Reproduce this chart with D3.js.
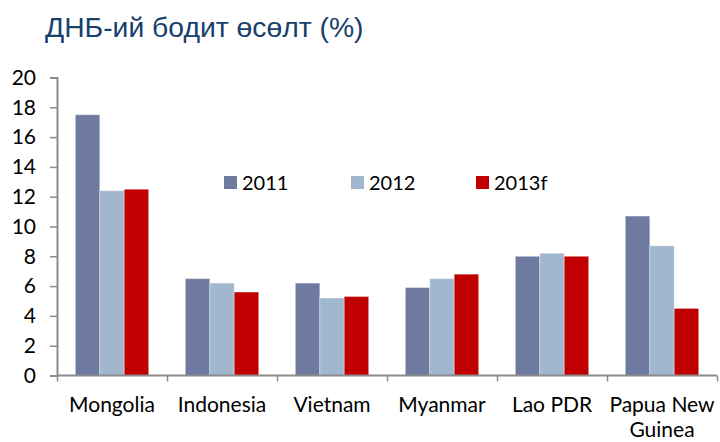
<!DOCTYPE html>
<html><head><meta charset="utf-8">
<script src="https://cdn.jsdelivr.net/npm/d3@7"></script>
<style>body{margin:0;background:#fff}</style>
</head><body>
<svg id="c" width="720" height="442"></svg>
<script>
const categories = [["Mongolia"],["Indonesia"],["Vietnam"],["Myanmar"],["Lao PDR"],["Papua New","Guinea"]];
const seriesNames = ["2011","2012","2013f"];
const s2011 = [17.5, 6.5, 6.2, 5.9, 8.0, 10.7];
const s2012 = [12.4, 6.2, 5.2, 6.5, 8.2, 8.7];
const s2013 = [12.5, 5.6, 5.3, 6.8, 8.0, 4.5];
const yTicks = [0,2,4,6,8,10,12,14,16,18,20];
const colors = ["#6F7AA0","#A0B7CE","#C00000"];
const series = [s2011, s2012, s2013];

(function(){
const svg = d3.select("#c");
const mLeft = 57, mRight = 717, mTop = 77.5, mBottom = 375.5;
const catFont = "Lato, 'Gill Sans', sans-serif";

svg.append("text").attr("x",45).attr("y",37)
  .attr("font-family","'Liberation Sans', Arial, sans-serif").attr("font-size",28.3)
  .attr("fill","#17406D").text("ДНБ-ий бодит өсөлт (%)");

const x = d3.scaleBand().domain(d3.range(categories.length)).range([mLeft,mRight]).paddingInner(0).paddingOuter(0);
const xs = d3.scaleBand().domain(d3.range(3)).range([0, x.bandwidth()]).paddingOuter(0.75).paddingInner(0);
const y = d3.scaleLinear().domain([0,20]).range([mBottom, mTop]);

series.forEach((vals,si)=>{
  svg.append("g").selectAll("rect").data(vals).join("rect")
    .attr("x",(d,i)=>x(i)+xs(si)).attr("width",xs.bandwidth())
    .attr("y",d=>y(d)).attr("height",d=>y(0)-y(d))
    .attr("fill",colors[si]).attr("stroke","rgba(255,255,255,0.35)").attr("stroke-width",1);
});

const ya = d3.axisLeft(y).tickValues(yTicks).tickSize(7).tickPadding(14);
const gy = svg.append("g").attr("transform",`translate(${mLeft},0)`).call(ya);
gy.select(".domain").attr("stroke","#8C8C8C").attr("stroke-width",2);
gy.selectAll(".tick line").attr("stroke","#8C8C8C").attr("stroke-width",1.5);
gy.selectAll(".tick text").attr("font-family",catFont).attr("font-size",21).attr("fill","#000");

const xa = d3.axisBottom(d3.scaleLinear().domain([0,categories.length]).range([mLeft,mRight]))
  .tickValues(d3.range(categories.length+1)).tickSize(6).tickFormat("");
const gx = svg.append("g").attr("transform",`translate(0,${mBottom})`).call(xa);
gx.select(".domain").attr("stroke","#8C8C8C").attr("stroke-width",2).attr("d",`M${mLeft},0H${mRight}`);
gx.selectAll(".tick line").attr("stroke","#8C8C8C").attr("stroke-width",1.5);

categories.forEach((lines,i)=>{
  const cx = x(i)+x.bandwidth()/2;
  const t = svg.append("text").attr("x",cx).attr("y",412)
    .attr("text-anchor","middle").attr("font-family",catFont).attr("font-size",21).attr("fill","#000");
  lines.forEach((l,j)=>t.append("tspan").attr("x",cx).attr("dy",j?25:0).text(l));
});

const legX = [224, 351, 476];
seriesNames.forEach((n,i)=>{
  svg.append("rect").attr("x",legX[i]).attr("y",176).attr("width",13).attr("height",13).attr("fill",colors[i]);
  svg.append("text").attr("x",legX[i]+18).attr("y",189.5).attr("font-family",catFont).attr("font-size",20)
    .attr("fill","#000").text(n);
});
})();
</script>
</body></html>
